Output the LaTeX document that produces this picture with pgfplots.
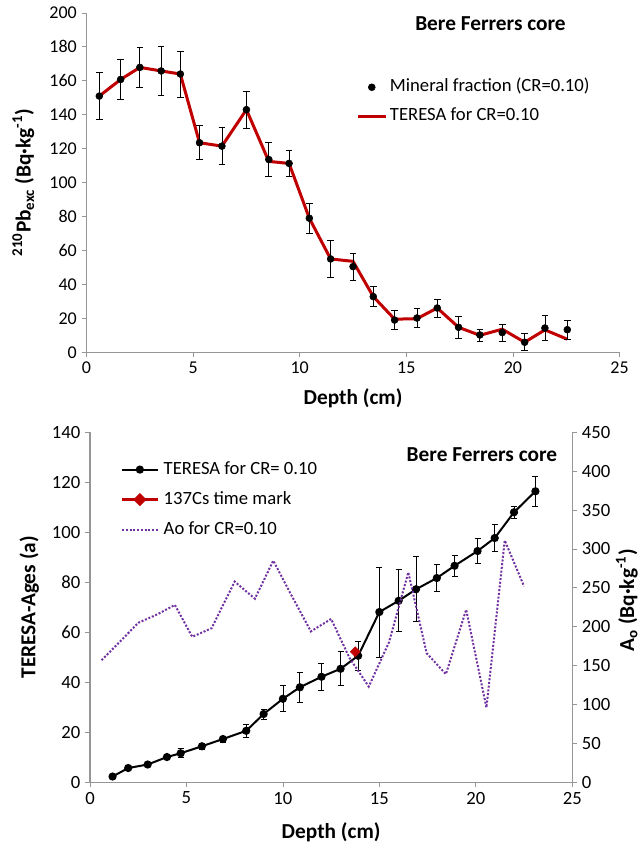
\documentclass[border=0pt]{standalone}
\usepackage{pgfplots}
\usepackage{pgfplotstable}
\pgfplotsset{compat=1.18}
\usepackage{fontspec}
\setmainfont{Carlito}
\definecolor{axgray}{RGB}{150,150,150}
\definecolor{darkred}{RGB}{192,0,0}
\definecolor{vio}{RGB}{112,48,160}

\pgfplotsset{
  dotlegend/.style={legend image code/.code={\draw[mark repeat=2,mark phase=2,##1] plot coordinates {(0pt,0pt)(10.5pt,0pt)(21pt,0pt)};}},
  linelegend/.style={legend image code/.code={\draw[##1] (0pt,0pt) -- (21pt,0pt);}},
  widelegend/.style={legend image code/.code={\draw[mark repeat=2,mark phase=2,##1] plot coordinates {(0pt,0pt)(13.25pt,0pt)(26.5pt,0pt)};}},
}

% Mineral fraction (CR=0.10): depth, 210Pb_exc, error
\pgfplotstableread{
d v e
0.6 151 14
1.6 160.8 12
2.5 167.9 12
3.5 165.8 14.5
4.4 164 13.5
5.3 123.5 10
6.35 121.5 11
7.5 143 11
8.55 113.6 10
9.5 111.3 7.5
10.45 79 8.7
11.45 55 11
12.5 50.5 8
13.45 32.8 6
14.45 19 5.5
15.5 20.2 5.5
16.45 26.1 5.3
17.45 14.7 6.5
18.45 10.2 3.5
19.5 11.6 5
20.55 5.9 5
21.5 14.3 7.3
22.55 13.3 5.7
}\minerals

% TERESA model for CR=0.10
\pgfplotstableread{
d v
0.6 151
1.6 160.8
2.5 167.9
3.5 165.8
4.4 164
5.3 123.5
6.35 121.5
7.5 143
8.55 112.5
9.5 111.3
10.45 79
11.45 55
12.5 53.6
13.45 32.8
14.45 19.5
15.5 19.8
16.45 26.1
17.45 14.7
18.45 10
19.5 13.6
20.55 5.9
21.5 13.2
22.55 7.7
}\teresa

% TERESA ages: depth, age, error
\pgfplotstableread{
d a e
1.17 2.3 0
1.98 5.7 0
2.99 7.1 0
3.99 10.1 0
4.7 11.6 1.8
5.8 14.4 1.2
6.89 17.3 1.2
8.1 20.6 2.6
9.0 27.3 2
10.0 33.4 5.2
10.88 38 6
12.0 42.2 5.3
12.99 45.4 6.8
13.9 50.6 5.9
15.0 68.1 18
16.0 72.6 12.4
16.9 77.2 13
17.98 81.7 5.5
18.9 86.6 4.3
20.09 92.5 5
20.98 97.7 5.3
21.98 108 2.4
23.09 116.4 5.9
}\ages

% Ao for CR=0.10
\pgfplotstableread{
d a
0.6 157
1.6 182
2.5 205
3.5 216
4.4 228
5.3 187
6.3 198
7.5 258
8.55 236
9.5 285
10.45 240
11.45 194
12.5 210
13.45 160
14.45 123
15.5 180
16.5 270
17.45 166
18.45 139
19.5 222
20.55 96
21.5 311
22.5 252
}\ao

\begin{document}
\begin{tikzpicture}[x=1pt,y=1pt]
\useasboundingbox (0,0) rectangle (480.75,-632.25);
\pgfplotsset{
  base/.style={
    scale only axis,
    xmin=0,xmax=25,
    xtick={0,5,...,25},
    tick align=outside,
    major tick length=3.75pt,
    tick style={axgray, line width=0.6pt},
    axis line style={axgray, line width=0.8pt, -},
    /pgf/number format/assume math mode=true,
    clip=false,
  },
}
% ---------------- top panel ----------------
\begin{axis}[base,
  width=399.75pt, height=254.5pt,
  at={(64.9pt,-264.2pt)}, anchor=south west,
  axis x line*=bottom, axis y line*=left,
  ymin=0, ymax=200, ytick={0,20,...,200},
  ticklabel style={font=\fontsize{13.5}{16}\selectfont},
  xlabel={\textbf{Depth (cm)}},
  xlabel style={font=\fontsize{16}{19}\selectfont, at={(axis description cs:0.5,-0.1553)}, anchor=base},
  ylabel={\textbf{\textsuperscript{210}Pb\textsubscript{exc} (Bq·kg\textsuperscript{-1})}},
  ylabel style={font=\fontsize{16}{19}\selectfont, at={(axis description cs:-0.105,0.5)}, anchor=base},
  legend style={at={(0.5056,0.8073)}, anchor=north west, draw=none, fill=none,
    inner sep=0pt, column sep=2pt, row sep=8.75pt,
    nodes={inner sep=0pt, text height=10pt, text depth=3pt},
    font=\fontsize{14}{17}\selectfont},
  legend cell align=left,
]
\addplot[darkred, line width=2.25pt, forget plot] table[x=d,y=v]{\teresa};
\addplot[only marks, mark=*, mark size=2.6pt, black, dotlegend,
  error bars/.cd, y dir=both, y explicit,
  error bar style={black, line width=0.6pt},
  error mark options={rotate=90, mark size=2.5pt, black, line width=0.6pt}]
  table[x=d,y=v,y error=e]{\minerals};
\addlegendimage{darkred, line width=2.25pt, linelegend}
\legend{Mineral fraction (CR=0.10), TERESA for CR=0.10}
\end{axis}
\node[anchor=base, font=\fontsize{16}{19}\selectfont\bfseries] at (367.9,-22.5) {Bere Ferrers core};

% ---------------- bottom panel ----------------
\begin{axis}[base,
  width=361.7pt, height=262.5pt,
  at={(67.5pt,-586.7pt)}, anchor=south west,
  axis x line*=bottom, axis y line*=left,
  ymin=0, ymax=140, ytick={0,20,...,140},
  ticklabel style={font=\fontsize{14}{17}\selectfont},
  xlabel={\textbf{Depth (cm)}},
  xlabel style={font=\fontsize{16}{19}\selectfont, at={(axis description cs:0.5,-0.16)}, anchor=base},
  ylabel={\textbf{TERESA-Ages (a)}},
  ylabel style={font=\fontsize{16}{19}\selectfont, at={(axis description cs:-0.113,0.5)}, anchor=base},
]
\addplot[black, line width=1.5pt, mark=*, mark size=2.3pt,
  error bars/.cd, y dir=both, y explicit,
  error bar style={black, line width=0.6pt},
  error mark options={rotate=90, mark size=2.25pt, black, line width=0.6pt}]
  table[x=d,y=a,y error=e]{\ages};
\addplot[only marks, darkred, mark=square*, mark options={rotate=45}, mark size=2.6pt] coordinates {(13.75,52.2)};
\end{axis}
\begin{axis}[base,
  width=361.7pt, height=262.5pt,
  at={(67.5pt,-586.7pt)}, anchor=south west,
  axis x line=none, axis y line*=right,
  ymin=0, ymax=450, ytick={0,50,...,450},
  ticklabel style={font=\fontsize{14}{17}\selectfont},
  ylabel={\textbf{A\textsubscript{o} (Bq·kg\textsuperscript{-1})}},
  ylabel style={font=\fontsize{16}{19}\selectfont, at={(axis description cs:1.128,0.52)}, anchor=base},
  legend style={at={(0.0637,0.9189)}, anchor=north west, draw=none, fill=none,
    inner sep=0pt, column sep=3.75pt, row sep=9.5pt,
    nodes={inner sep=0pt, text height=10pt, text depth=3pt},
    font=\fontsize{14}{17}\selectfont},
  legend cell align=left,
  widelegend,
]
\addlegendimage{black, line width=1.5pt, mark=*, mark size=2.3pt}
\addlegendimage{darkred, line width=1.8pt, mark=square*, mark options={rotate=45}, mark size=2.6pt}
\addplot[vio, line width=1.5pt, dash pattern=on 1.5pt off 1.3pt] table[x=d,y=a]{\ao};
\legend{TERESA for CR= 0.10, 137Cs time mark, Ao for CR=0.10}
\end{axis}
\node[anchor=base, font=\fontsize{16}{19}\selectfont\bfseries] at (361.5,-346.3) {Bere Ferrers core};
\end{tikzpicture}
\end{document}
